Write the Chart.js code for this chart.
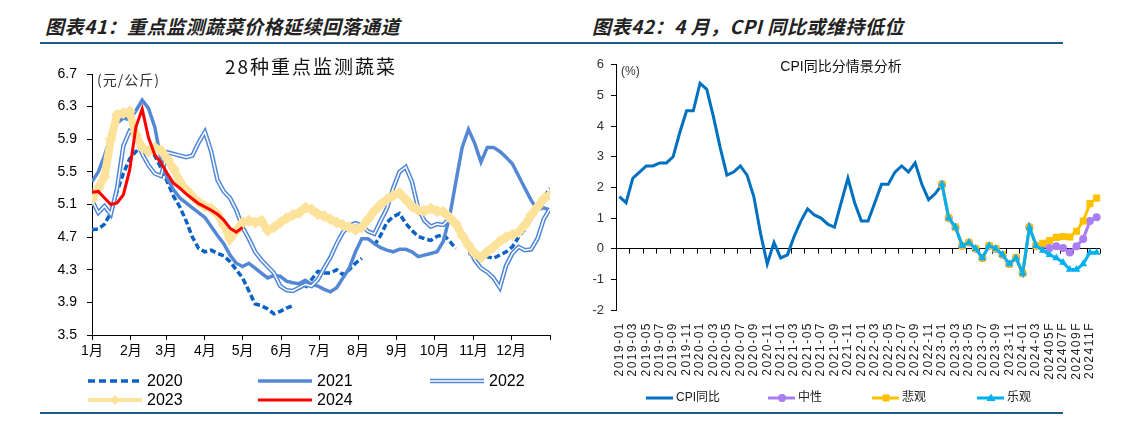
<!DOCTYPE html>
<html>
<head>
<meta charset="utf-8">
<title>蔬菜价格与CPI</title>
<script src="https://cdn.jsdelivr.net/npm/chart.js@4.4.1/dist/chart.umd.min.js"></script>
<style>
  body { margin:0; width:1131px; height:421px; background:#fff; position:relative; overflow:hidden; }
  .hd { position:absolute; top:16px; font-family:"Noto Sans CJK SC", sans-serif; font-weight:bold; font-style:italic;
        font-size:19px; line-height:20px; color:#222; white-space:nowrap; letter-spacing:0.5px; }
  .rule { position:absolute; left:40px; width:1023px; height:2px; background:#1d5b87; }
  canvas { position:absolute; top:50px; }
</style>
</head>
<body>
<div class="hd" style="left:45px">图表41：重点监测蔬菜价格延续回落通道</div>
<div class="hd" style="left:592px">图表42：4 月，CPI 同比或维持低位</div>
<div class="rule" style="top:42px"></div>
<div class="rule" style="top:412px"></div>
<canvas id="veg" width="560" height="362" style="left:0"></canvas>
<canvas id="cpi" width="571" height="362" style="left:560px"></canvas>
<script>
// ---- 左图：28种重点监测蔬菜均价（元/公斤），每5天一个点 ----
var monthDays = [0, 31, 59, 90, 120, 151, 181, 212, 243, 273, 304, 334];
var monthLabels = ['1月', '2月', '3月', '4月', '5月', '6月', '7月', '8月', '9月', '10月', '11月', '12月'];
var vegTicks = [3.5, 3.9, 4.3, 4.7, 5.1, 5.5, 5.9, 6.3, 6.7];
var days = [];
for (var d = 0; d <= 365; d += 5) days.push(d);

var v2020 = [4.79, 4.80, 4.86, 5.00, 5.26, 5.48, 5.66, 5.75, 5.82, 5.78,
             5.70, 5.55, 5.38, 5.20, 5.07, 4.90, 4.70, 4.56, 4.52, 4.54,
             4.50, 4.47, 4.40, 4.30, 4.20, 4.04, 3.88, 3.86, 3.82, 3.76,
             3.79, 3.83, 3.86, null, 4.08, 4.18, 4.28, 4.26, 4.26, 4.30,
             4.24, 4.30, 4.38, 4.44, null, 4.60, 4.72, 4.88, 4.95, 4.99,
             4.87, 4.78, 4.71, 4.68, 4.66, 4.71, 4.73, 4.65, 4.56, null,
             4.50, 4.50, 4.47, 4.46, 4.44, 4.48, 4.52, 4.58, 4.70, 4.80,
             4.92, 5.05, 5.18, 5.30];
var v2021 = [5.38, 5.50, 5.70, 5.95, 6.10, 6.16, 6.14, 6.25, 6.38, 6.28,
             6.05, 5.65, 5.42, 5.28, 5.18, 5.12, 5.06, 5.00, 4.94, 4.83,
             4.72, 4.62, 4.48, 4.38, 4.34, 4.38, 4.32, 4.26, 4.20, 4.23,
             4.22, 4.16, 4.14, 4.13, 4.17, 4.12, 4.10, 4.06, 4.03, 4.08,
             4.20, 4.32, 4.52, 4.68, 4.68, 4.62, 4.57, 4.54, 4.52, 4.55,
             4.55, 4.52, 4.46, 4.48, 4.50, 4.52, 4.65, 4.95, 5.38, 5.80,
             6.02, 5.85, 5.62, 5.80, 5.80, 5.75, 5.68, 5.60, 5.45, 5.30,
             5.15, 5.04, 5.06, 5.03];
var v2022 = [5.15, 5.00, 5.08, 4.98, 5.30, 5.82, 6.00, 5.95, 5.72, 5.58,
             5.48, 5.45, 5.74, 5.72, 5.70, 5.68, 5.70, 5.86, 5.99, 5.75,
             5.40, 5.26, 5.18, 5.03, 4.82, 4.68, 4.52, 4.42, 4.34, 4.26,
             4.10, 4.05, 4.04, 4.08, 4.12, 4.10, 4.18, 4.32, 4.45, 4.62,
             4.76, 4.84, 4.87, 4.84, 4.77, 4.74, 4.90, 5.05, 5.30, 5.50,
             5.56, 5.38, 5.05, 4.90, 4.83, 4.86, 4.85, 4.93, 4.88, 4.74,
             4.58, 4.42, 4.32, 4.27, 4.20, 4.08, 4.35, 4.50, 4.58, 4.54,
             4.55, 4.68, 4.92, 5.05];
var v2023 = [5.16, 5.30, 5.44, 5.90, 6.20, 6.22, 6.24, 5.95, 5.80, 5.75,
             5.80, 5.76, 5.66, 5.54, 5.38, 5.28, 5.20, 5.13, 5.08, 5.05,
             4.98, 4.85, 4.68, 4.78, 4.88, 4.90, 4.88, 4.90, 4.78, 4.82,
             4.88, 4.93, 4.97, 5.00, 5.06, 5.04, 4.98, 4.96, 4.92, 4.88,
             4.85, 4.82, 4.79, 4.82, 4.92, 5.02, 5.10, 5.16, 5.21, 5.24,
             5.16, 5.08, 5.03, 5.02, 5.05, 5.02, 5.01, 4.94, 4.86, 4.72,
             4.60, 4.50, 4.45, 4.52, 4.58, 4.65, 4.70, 4.73, 4.76, 4.85,
             4.97, 5.07, 5.17, 5.22];
var v2024 = [5.25, 5.26, 5.18, 5.10, 5.12, 5.22, 5.52, 6.05, 6.27, 5.92,
             5.71, 5.61, 5.48, 5.36, 5.30, 5.23, 5.17, 5.11, 5.07, 5.03,
             4.98, 4.91, 4.81, 4.76, 4.82];

// ---- 右图：CPI同比（%）及情景 ----
var years = ['2019', '2020', '2021', '2022', '2023', '2024'];
var cpi = [1.7, 1.5, 2.3, 2.5, 2.7, 2.7, 2.8, 2.8, 3.0, 3.8, 4.5, 4.5,
           5.4, 5.2, 4.3, 3.3, 2.4, 2.5, 2.7, 2.4, 1.7, 0.5, -0.5, 0.2,
           -0.3, -0.2, 0.4, 0.9, 1.3, 1.1, 1.0, 0.8, 0.7, 1.5, 2.3, 1.5,
           0.9, 0.9, 1.5, 2.1, 2.1, 2.5, 2.7, 2.5, 2.8, 2.1, 1.6, 1.8,
           2.1];
// 2023-02 ~ 2024-03 实际值
var cpiRecent = [1.0, 0.7, 0.1, 0.2, 0.0, -0.3, 0.1, 0.0, -0.2, -0.5, -0.3, -0.8, 0.7, 0.1];
// 2024-04 ~ 2024-12 预测
var neutral = [0.13, 0.02, 0.08, 0.02, -0.12, 0.08, 0.32, 0.9, 1.03];
var pessimistic = [0.18, 0.27, 0.37, 0.4, 0.38, 0.57, 0.9, 1.47, 1.65];
var optimistic = [-0.06, -0.2, -0.3, -0.45, -0.68, -0.68, -0.5, -0.12, -0.12];

var cpiLabels = [];
years.forEach(function (y) {
    for (var m = 1; m <= 12; m++) {
        var mm = (m < 10 ? '0' : '') + m;
        cpiLabels.push(y === '2024' && m >= 4 ? y + mm + 'F' : y + '-' + mm);
    }
});

function toXY(vals) {
    return vals.map(function (v, i) { return { x: days[i], y: v }; });
}

function scenario(fc) {
    var out = [];
    for (var i = 0; i < cpi.length - 1; i++) out.push(null);
    out.push(cpi[cpi.length - 1]);
    return out.concat(cpiRecent, fc);
}

var FONT = '"Liberation Sans", "Noto Sans CJK SC", sans-serif';
Chart.defaults.font.family = FONT;
Chart.defaults.color = '#000';

var yellow = '#fde29c';

var vegDecor = {
    id: 'vegDecor',
    afterDraw: function (chart) {
        var ctx = chart.ctx;
        ctx.save();
        ctx.fillStyle = '#111';
        ctx.textBaseline = 'middle';
        ctx.textAlign = 'center';
        ctx.font = '19px "Noto Sans CJK SC", sans-serif';
        ctx.letterSpacing = '2px';
        ctx.fillText('28种重点监测蔬菜', 311, 17);
        ctx.textAlign = 'left';
        ctx.font = '14px "Noto Sans CJK SC", sans-serif';
        ctx.fillStyle = '#333';
        ctx.letterSpacing = '1px';
        ctx.fillText('(元/公斤)', 97, 30);
        ctx.letterSpacing = '0px';

        // legend
        var items = [[88, 331, '2020'], [258, 331, '2021'], [430, 331, '2022'], [88, 350, '2023'], [258, 350, '2024']];
        items.forEach(function (it) {
            var x = it[0], y = it[1], name = it[2];
            ctx.beginPath();
            ctx.moveTo(x, y);
            ctx.lineTo(x + 54, y);
            ctx.setLineDash([]);
            if (name === '2020') {
                ctx.strokeStyle = '#0a62c4'; ctx.lineWidth = 3.5; ctx.setLineDash([7, 4]); ctx.stroke();
            } else if (name === '2021') {
                ctx.strokeStyle = '#5588d4'; ctx.lineWidth = 3.5; ctx.stroke();
            } else if (name === '2022') {
                ctx.strokeStyle = '#4f86d6'; ctx.lineWidth = 4.5; ctx.stroke();
                ctx.strokeStyle = '#fff'; ctx.lineWidth = 1.5; ctx.stroke();
            } else if (name === '2023') {
                ctx.strokeStyle = yellow; ctx.lineWidth = 4; ctx.stroke();
                ctx.fillStyle = yellow;
                ctx.beginPath();
                ctx.moveTo(x + 27, y - 5); ctx.lineTo(x + 32, y); ctx.lineTo(x + 27, y + 5); ctx.lineTo(x + 22, y);
                ctx.closePath(); ctx.fill();
            } else {
                ctx.strokeStyle = '#ff0000'; ctx.lineWidth = 3; ctx.stroke();
            }
            ctx.setLineDash([]);
            ctx.fillStyle = '#000';
            ctx.font = '16px ' + FONT;
            ctx.fillText(name, x + 59, y + 1);
        });
        ctx.restore();
    }
};

new Chart(document.getElementById('veg'), {
    type: 'line',
    data: {
        datasets: [
            { label: '2020', data: toXY(v2020), borderColor: '#0a62c4', borderWidth: 3.5, borderDash: [6, 3], order: 5 },
            { label: '2021', data: toXY(v2021), borderColor: '#5588d4', borderWidth: 3.5, order: 4 },
            { label: '2022', data: toXY(v2022), borderColor: '#4f86d6', borderWidth: 4.5, order: 3 },
            { label: '2022 ', data: toXY(v2022), borderColor: '#fff', borderWidth: 1.5, order: 2 },
            { label: '2023', data: toXY(v2023), borderColor: yellow, borderWidth: 8, order: 1,
              pointRadius: 6, pointStyle: 'rectRot', pointBackgroundColor: yellow, pointBorderWidth: 0 },
            { label: '2024', data: toXY(v2024), borderColor: '#ff0000', borderWidth: 3, order: 0 }
        ]
    },
    options: {
        responsive: false,
        animation: false,
        events: [],
        layout: { padding: { top: 24, right: 10, left: 0, bottom: 0 } },
        elements: { point: { radius: 0 }, line: { tension: 0, borderCapStyle: 'butt' } },
        plugins: { legend: { display: false }, tooltip: { enabled: false } },
        scales: {
            x: {
                type: 'linear', min: 0, max: 365,
                afterBuildTicks: function (s) {
                    s.ticks = monthDays.concat([365]).map(function (v) { return { value: v }; });
                },
                afterFit: function (s) { s.height = 77; },
                ticks: {
                    autoSkip: false, maxRotation: 0, padding: 3, font: { size: 14 }, color: '#000',
                    callback: function (v) {
                        var i = monthDays.indexOf(v);
                        return i < 0 ? '' : monthLabels[i];
                    }
                },
                grid: { drawOnChartArea: false, tickLength: 5, color: '#000' },
                border: { color: '#000' }
            },
            y: {
                min: 3.5, max: 6.7,
                afterBuildTicks: function (s) {
                    s.ticks = vegTicks.map(function (v) { return { value: v }; });
                },
                afterFit: function (s) { s.width = 92; },
                ticks: {
                    padding: 10, font: { size: 14 }, color: '#000',
                    callback: function (v) { return v.toFixed(1); }
                },
                grid: { drawOnChartArea: false, tickLength: 5, color: '#000' },
                border: { color: '#000' }
            }
        }
    },
    plugins: [vegDecor]
});

// ---- 右图 ----
var cBlue = '#0070c0', cPurple = '#a97ef2', cGold = '#ffc000', cSky = '#00b0f0';

function marker(ctx, kind, x, y, color) {
    ctx.fillStyle = color;
    ctx.beginPath();
    if (kind === 'circle') {
        ctx.arc(x, y, 4, 0, Math.PI * 2);
    } else if (kind === 'rect') {
        ctx.rect(x - 3.5, y - 3.5, 7, 7);
    } else {
        ctx.moveTo(x, y - 4.5); ctx.lineTo(x + 4.5, y + 3); ctx.lineTo(x - 4.5, y + 3); ctx.closePath();
    }
    ctx.fill();
}

var cpiDecor = {
    id: 'cpiDecor',
    beforeDatasetsDraw: function (chart) {
        var ctx = chart.ctx, xs = chart.scales.x, ys = chart.scales.y;
        var half = (xs.getPixelForValue(1) - xs.getPixelForValue(0)) / 2;
        var y0 = ys.getPixelForValue(0);
        ctx.save();
        ctx.strokeStyle = '#000';
        ctx.lineWidth = 1;
        for (var i = 0; i <= cpiLabels.length; i += 2) {
            var x = Math.round(xs.getPixelForValue(0) - half + i * half * 2) + 0.5;
            ctx.beginPath();
            ctx.moveTo(x, y0);
            ctx.lineTo(x, y0 + 5);
            ctx.stroke();
        }
        ctx.restore();
    },
    afterDraw: function (chart) {
        var ctx = chart.ctx, xs = chart.scales.x;
        ctx.save();
        ctx.fillStyle = '#111';
        ctx.textBaseline = 'middle';
        ctx.textAlign = 'center';
        ctx.font = '14px ' + FONT;
        ctx.fillText('CPI同比分情景分析', 281, 17);
        ctx.textAlign = 'left';
        ctx.font = '12px ' + FONT;
        ctx.fillStyle = '#333';
        ctx.fillText('(%)', 61, 22);

        // rotated category labels
        ctx.fillStyle = '#222';
        ctx.font = '12px ' + FONT;
        ctx.letterSpacing = '1.5px';
        ctx.textAlign = 'right';
        for (var i = 0; i < cpiLabels.length; i += 2) {
            ctx.save();
            ctx.translate(xs.getPixelForValue(i), 272);
            ctx.rotate(-Math.PI / 2);
            ctx.fillText(cpiLabels[i], 0, 0);
            ctx.restore();
        }
        ctx.letterSpacing = '0px';

        // legend
        var items = [[86, 'CPI同比', cBlue, null], [208, '中性', cPurple, 'circle'],
                     [312, '悲观', cGold, 'rect'], [417, '乐观', cSky, 'tri']];
        var ly = 348;
        ctx.textAlign = 'left';
        items.forEach(function (it) {
            var x = it[0];
            ctx.strokeStyle = it[2];
            ctx.lineWidth = 3;
            ctx.beginPath();
            ctx.moveTo(x, ly);
            ctx.lineTo(x + 27, ly);
            ctx.stroke();
            if (it[3]) marker(ctx, it[3], x + 14, ly, it[2]);
            ctx.fillStyle = '#222';
            ctx.font = '12px ' + FONT;
            ctx.fillText(it[1], x + 30, ly);
        });
        ctx.restore();
    }
};

new Chart(document.getElementById('cpi'), {
    type: 'line',
    data: {
        labels: cpiLabels,
        datasets: [
            { label: 'CPI同比', data: cpi, borderColor: cBlue, borderWidth: 3, pointRadius: 0, order: 3 },
            { label: '中性', data: scenario(neutral), borderColor: cPurple, borderWidth: 3,
              pointStyle: 'circle', pointRadius: 4, pointBackgroundColor: cPurple, pointBorderWidth: 0, order: 2 },
            { label: '悲观', data: scenario(pessimistic), borderColor: cGold, borderWidth: 3,
              pointStyle: 'rect', pointRadius: 5, pointBackgroundColor: cGold, pointBorderWidth: 0, order: 1 },
            { label: '乐观', data: scenario(optimistic), borderColor: cSky, borderWidth: 3,
              pointStyle: 'triangle', pointRadius: 4.5, pointBackgroundColor: cSky, pointBorderWidth: 0, order: 0 }
        ]
    },
    options: {
        responsive: false,
        animation: false,
        events: [],
        layout: { padding: { top: 14, right: 31, left: 0, bottom: 0 } },
        elements: { line: { tension: 0 } },
        plugins: { legend: { display: false }, tooltip: { enabled: false } },
        scales: {
            x: {
                type: 'category',
                offset: true,
                afterFit: function (s) { s.height = 102; },
                ticks: { display: false },
                grid: { display: false },
                border: { display: false }
            },
            y: {
                min: -2, max: 6,
                afterFit: function (s) { s.width = 56; },
                ticks: { stepSize: 1, padding: 7, font: { size: 13 }, color: '#333' },
                grid: {
                    drawOnChartArea: true, tickLength: 5, tickColor: '#000',
                    color: function (c) { return c.tick && c.tick.value === 0 ? '#000' : 'rgba(0,0,0,0)'; }
                },
                border: { color: '#000' }
            }
        }
    },
    plugins: [cpiDecor]
});
</script>
</body>
</html>
